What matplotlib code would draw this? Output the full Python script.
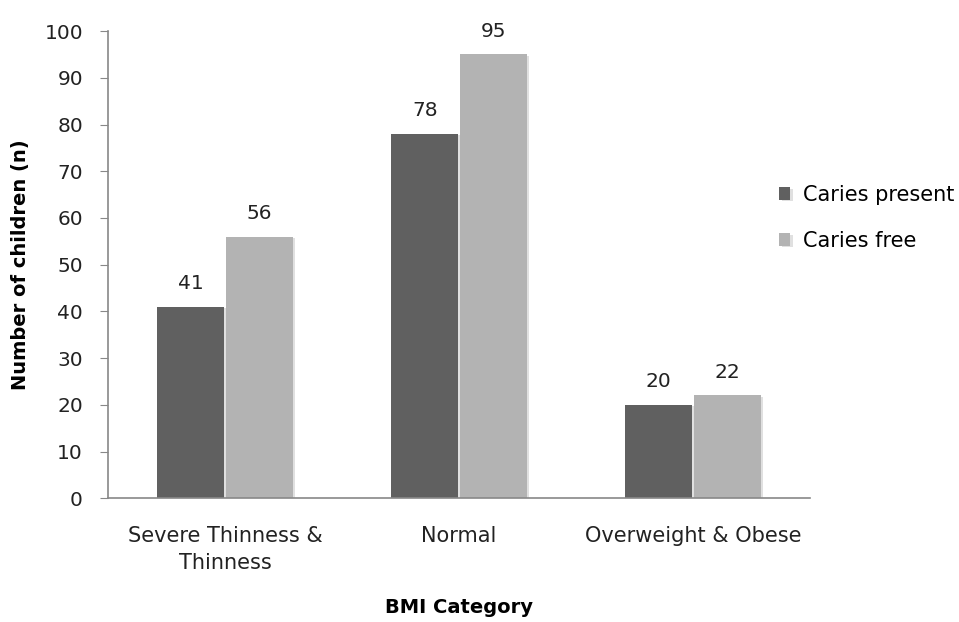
import matplotlib
matplotlib.use("Agg")
import matplotlib.pyplot as plt
import matplotlib.patheffects as pe
import numpy as np

categories = ["Severe Thinness &\nThinness", "Normal", "Overweight & Obese"]
series_names = ["Caries present", "Caries free"]
caries_present = [41, 78, 20]
caries_free = [56, 95, 22]
yticks = [0, 10, 20, 30, 40, 50, 60, 70, 80, 90, 100]

plt.rcParams['font.family'] = ['DejaVu Sans']

fig = plt.figure(figsize=(9.59, 6.22), dpi=100)
ax = fig.add_axes([0.1126, 0.199, 0.732, 0.751])

x = np.arange(len(categories))
w = 0.285
colors = ["#606060", "#b3b3b3"]
shadow = [pe.SimplePatchShadow(offset=(2, -1), shadow_rgbFace="#cccccc", alpha=0.6), pe.Normal()]
b1 = ax.bar(x - w / 2 - 0.004, caries_present, w, color=colors[0], label=series_names[0], path_effects=shadow)
b2 = ax.bar(x + w / 2 + 0.004, caries_free, w, color=colors[1], label=series_names[1], path_effects=shadow)

for bars, vals in ((b1, caries_present), (b2, caries_free)):
    for r, v in zip(bars, vals):
        ax.annotate(str(v), (r.get_x() + r.get_width() / 2, v), xytext=(0, 10),
                    textcoords="offset points", ha="center", va="bottom",
                    fontsize=14.5, color="#222222")

ax.set_xlim(-0.5, 2.5)
ax.set_ylim(0, 100)
ax.set_yticks(yticks)
ax.set_xticks(x)
ax.set_xticklabels(categories, fontsize=15, color="#222222", linespacing=1.45)
ax.tick_params(axis="y", labelsize=14.5, colors="#222222", length=6, color="#888888", pad=12)
ax.tick_params(axis="x", length=0, pad=20)
for s in ["top", "right"]:
    ax.spines[s].set_visible(False)
for s in ["left", "bottom"]:
    ax.spines[s].set_color("#888888")
    ax.spines[s].set_linewidth(1.2)

ax.set_ylabel("Number of children (n)", fontsize=14, fontweight="bold", labelpad=10)
ax.set_xlabel("BMI Category", fontsize=14, fontweight="bold", labelpad=18)

ax.legend(loc="center left", bbox_to_anchor=(779 / 959, 1 - 218 / 622), bbox_transform=fig.transFigure,
          frameon=False, fontsize=15, borderpad=0, borderaxespad=0,
          handlelength=0.55, handleheight=0.55, labelspacing=1.25, handletextpad=0.6)

fig.savefig("out.png", dpi=100)
